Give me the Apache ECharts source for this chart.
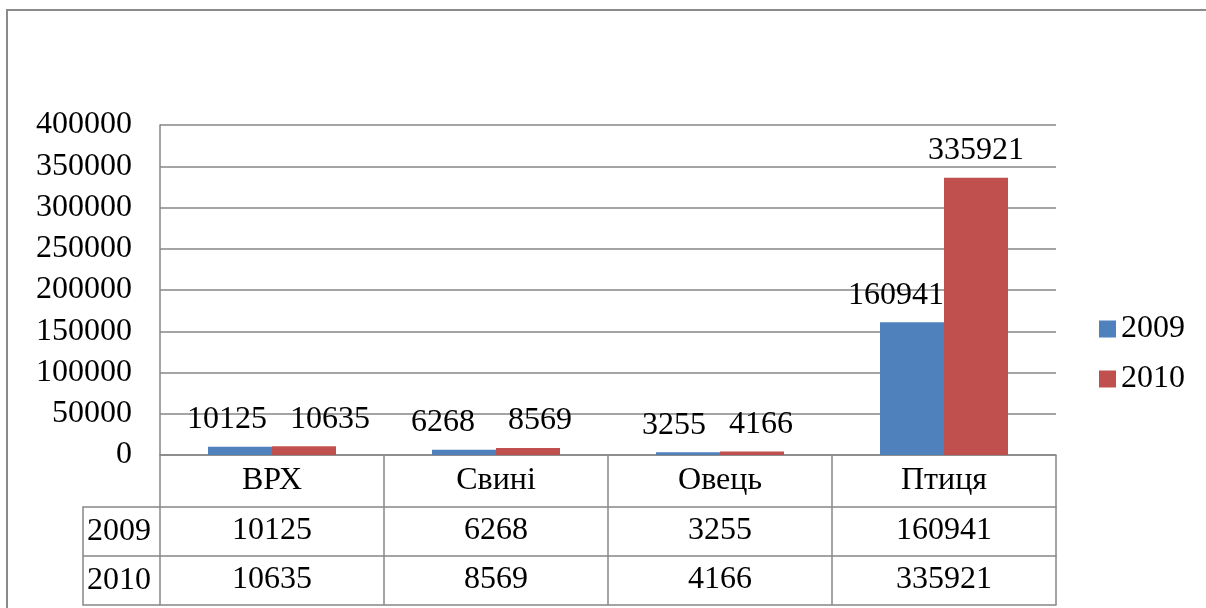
<!DOCTYPE html>
<html>
<head>
<meta charset="utf-8">
<script src="https://cdn.jsdelivr.net/npm/echarts@6/dist/echarts.min.js"></script>
<style>html,body{margin:0;padding:0;background:#fff}#c{width:1206px;height:608px}</style>
</head>
<body>
<div id="c"></div>
<script>
const categories = ['ВРХ', 'Свині', 'Овець', 'Птиця'];
const seriesNames = ['2009', '2010'];
const values2009 = [10125, 6268, 3255, 160941];
const values2010 = [10635, 8569, 4166, 335921];
const yTicks = [0, 50000, 100000, 150000, 200000, 250000, 300000, 350000, 400000];

// label nudges (pixels) as placed in the original chart to avoid overlap
const labelShift2009 = [[-13, 0], [-21, 0], [-14, 0], [-16, 0]];
const labelShift2010 = [[26, 0], [12, 0], [9, 0], [0, 0]];

const FONT = "'Liberation Serif', 'Times New Roman', serif";
const FS = 32;
const GRAY = '#868686';
const BLUE = '#4F81BD';
const RED = '#C0504D';

const chart = echarts.init(document.getElementById('c'), null, {renderer: 'canvas'});

const labelBase = {show: true, position: 'top', distance: 11, fontSize: FS, fontFamily: FONT, color: '#000'};

function tableAxis(offset, vals, showLabel) {
  return {
    type: 'category', data: categories, position: 'bottom', offset: offset,
    axisLine: {show: true, lineStyle: {color: GRAY, width: 1.5}},
    axisTick: {show: false},
    splitLine: {show: false},
    axisLabel: {show: showLabel, interval: 0, fontSize: FS, fontFamily: FONT, color: '#000', margin: 8,
      formatter: function (v, i) { return vals ? String(vals[i]) : v; }}
  };
}

function withShift(vals, shifts) {
  return vals.map(function (v, i) { return {value: v, label: {offset: shifts[i]}}; });
}

const option = {
  animation: false,
  backgroundColor: '#fff',
  textStyle: {fontFamily: FONT},
  grid: {left: 160, right: 150, top: 125, bottom: 153, containLabel: false},
  legend: {
    orient: 'vertical', left: 1099, top: 313, padding: 0, itemWidth: 17, itemHeight: 17, itemGap: 18,
    icon: 'rect', data: seriesNames,
    textStyle: {fontSize: FS, fontFamily: FONT, color: '#000'}
  },
  xAxis: [
    {
      type: 'category', data: categories, position: 'bottom',
      axisLine: {show: true, lineStyle: {color: GRAY, width: 1.5}},
      axisTick: {show: true, length: 150, interval: 0, lineStyle: {color: GRAY, width: 1.5}},
      axisLabel: {interval: 0, fontSize: FS, fontFamily: FONT, color: '#000', margin: 10}
    },
    tableAxis(52, values2009, true),
    tableAxis(101, values2010, true),
    tableAxis(150, null, false)
  ],
  yAxis: {
    type: 'value', min: yTicks[0], max: yTicks[yTicks.length - 1], interval: yTicks[1] - yTicks[0],
    axisLine: {show: true, lineStyle: {color: GRAY, width: 1.5}},
    axisTick: {show: false},
    splitLine: {show: true, lineStyle: {color: GRAY, width: 1.5}},
    axisLabel: {fontSize: FS, fontFamily: FONT, color: '#000', margin: 28,
      formatter: function (v) { return String(v); }}
  },
  series: [
    {
      name: seriesNames[0], type: 'bar', barWidth: 64, barGap: 0,
      itemStyle: {color: BLUE},
      label: labelBase,
      data: withShift(values2009, labelShift2009)
    },
    {
      name: seriesNames[1], type: 'bar', barWidth: 64, barGap: 0,
      itemStyle: {color: RED},
      label: labelBase,
      data: withShift(values2010, labelShift2010)
    }
  ],
  graphic: [
    {type: 'rect', silent: true, shape: {x: 7, y: 10, width: 1400, height: 800},
      style: {fill: 'none', stroke: '#8a8a8a', lineWidth: 2}},
    {type: 'polyline', silent: true, shape: {points: [[160, 507], [83, 507], [83, 605], [160, 605]]},
      style: {fill: 'none', stroke: GRAY, lineWidth: 1.5}},
    {type: 'line', silent: true, shape: {x1: 83, y1: 556, x2: 160, y2: 556},
      style: {stroke: GRAY, lineWidth: 1.5}},
    {type: 'text', silent: true, x: 87, y: 531.5,
      style: {text: seriesNames[0], fontSize: FS, fontFamily: FONT, fill: '#000', verticalAlign: 'middle'}},
    {type: 'text', silent: true, x: 87, y: 580.5,
      style: {text: seriesNames[1], fontSize: FS, fontFamily: FONT, fill: '#000', verticalAlign: 'middle'}}
  ]
};
chart.setOption(option);
</script>
</body>
</html>
